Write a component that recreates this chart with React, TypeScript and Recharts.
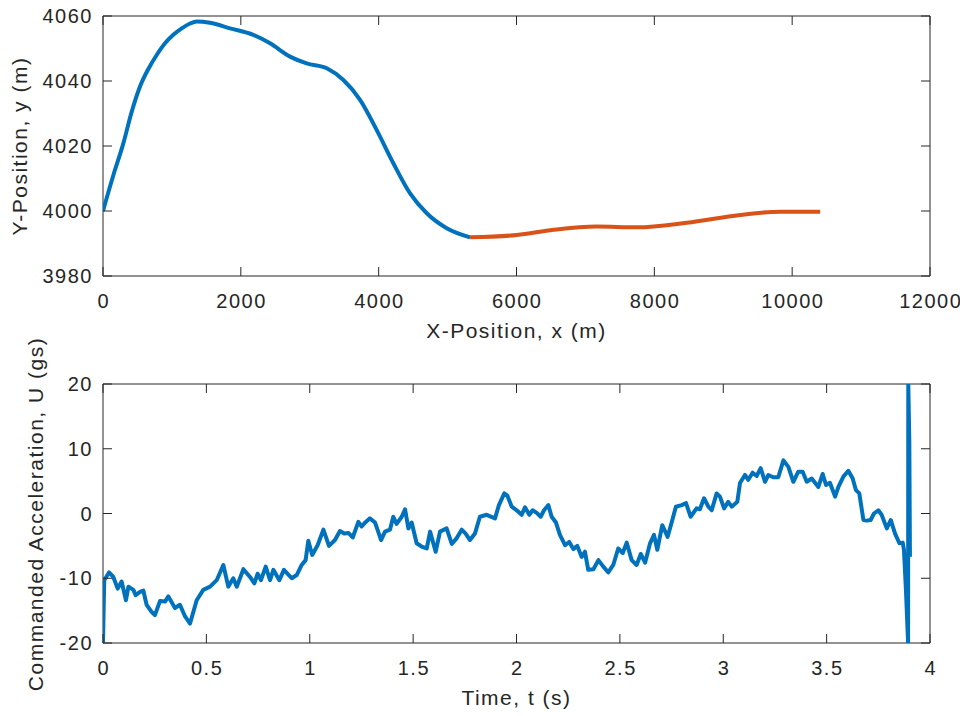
import React from 'react'
import { LineChart, Line, XAxis, YAxis, ReferenceArea } from 'recharts'

// top panel: trajectory, x/y positions in metres
const phase1X = [0, 150, 295, 416, 537, 658, 779, 900, 1020, 1142, 1263, 1360, 1553, 1843, 2181, 2424, 2714, 2956, 3247, 3488, 3730, 3972, 4213, 4456, 4698, 4988, 5326]
const phase1Y = [4000, 4011, 4020.8, 4030.5, 4038.3, 4043.7, 4048, 4051.6, 4054.2, 4056.2, 4057.7, 4058.3, 4057.9, 4056.2, 4054.2, 4051.6, 4047.5, 4045.4, 4043.9, 4040.3, 4034.2, 4024.9, 4014.7, 4005.4, 3999.3, 3994.7, 3991.9]
const phase2X = [5326, 6004, 6536, 7165, 7746, 8471, 9245, 9826, 10406]
const phase2Y = [3991.9, 3992.6, 3994.2, 3995.2, 3995.0, 3996.4, 3998.8, 3999.8, 3999.8]

// bottom panel: commanded acceleration over time
const timeS = [
  0, 0.006, 0.029, 0.05, 0.071, 0.09, 0.111, 0.123, 0.147, 0.158, 0.179, 0.195, 0.211, 0.235, 0.251, 0.276, 0.3, 0.316, 0.348, 0.372,
  0.397, 0.421, 0.453, 0.485, 0.518, 0.55, 0.582, 0.606, 0.63, 0.647, 0.679, 0.711, 0.732, 0.748, 0.764, 0.787, 0.808, 0.824, 0.853, 0.875,
  0.913, 0.937, 0.961, 0.98, 0.993, 1.012, 1.038, 1.066, 1.093, 1.122, 1.146, 1.167, 1.187, 1.208, 1.235, 1.251, 1.271, 1.291, 1.316, 1.345,
  1.364, 1.388, 1.404, 1.42, 1.445, 1.461, 1.477, 1.493, 1.517, 1.541, 1.566, 1.582, 1.609, 1.63, 1.662, 1.687, 1.711, 1.735, 1.754, 1.775,
  1.799, 1.823, 1.856, 1.896, 1.915, 1.941, 1.955, 1.977, 2.001, 2.025, 2.041, 2.062, 2.078, 2.098, 2.117, 2.133, 2.154, 2.17, 2.191, 2.21,
  2.235, 2.255, 2.275, 2.294, 2.315, 2.331, 2.347, 2.372, 2.396, 2.42, 2.444, 2.468, 2.492, 2.514, 2.533, 2.557, 2.581, 2.601, 2.622, 2.646,
  2.665, 2.681, 2.705, 2.731, 2.751, 2.771, 2.799, 2.82, 2.842, 2.871, 2.887, 2.907, 2.928, 2.944, 2.968, 2.984, 3.004, 3.024, 3.041, 3.068,
  3.081, 3.105, 3.121, 3.142, 3.162, 3.181, 3.202, 3.218, 3.242, 3.266, 3.291, 3.315, 3.339, 3.363, 3.384, 3.404, 3.428, 3.46, 3.481, 3.497,
  3.516, 3.541, 3.557, 3.581, 3.605, 3.626, 3.642, 3.658, 3.678, 3.694, 3.713, 3.729, 3.75, 3.766, 3.791, 3.81, 3.831, 3.852, 3.868, 3.874,
  3.884, 3.894, 3.895, 3.9, 3.903,
]
const accelG = [
  -20, -10.3, -9.1, -9.8, -11.6, -10.5, -13.4, -11.3, -11.8, -12.6, -12.1, -11.9, -14.1, -15.2, -15.7, -13.5, -13.6, -12.8, -14.6, -14.1,
  -15.9, -17.0, -13.4, -11.8, -11.3, -10.3, -7.95, -11.3, -10.0, -11.3, -8.6, -9.8, -10.8, -9.3, -10.3, -8.2, -10.3, -8.7, -10.3, -8.7,
  -10.0, -9.5, -7.95, -7.2, -4.2, -6.4, -4.9, -2.5, -5.0, -4.1, -2.7, -3.1, -3.0, -3.7, -1.3, -2.0, -1.3, -0.75, -1.4, -4.1,
  -2.8, -2.5, -0.5, -1.6, -0.5, 0.65, -2.3, -1.4, -4.6, -5.1, -5.4, -2.8, -5.9, -2.8, -2.3, -4.7, -3.8, -2.5, -3.1, -4.1,
  -3.1, -0.5, -0.2, -0.75, 1.3, 3.1, 2.8, 1.05, 0.5, -0.2, 0.95, -0.2, 0.5, 0.1, -0.5, 0.5, 1.3, -0.5, -1.4, -3.3,
  -4.9, -4.4, -5.5, -5.0, -6.7, -5.9, -8.7, -8.6, -7.2, -8.2, -9.1, -7.95, -5.4, -6.1, -4.5, -7.2, -7.95, -6.25, -7.6, -4.6,
  -3.3, -5.6, -1.8, -3.6, -1.3, 1.05, 1.3, 1.6, -0.5, 0.8, 0.65, 2.35, 1.05, 0.5, 3.1, 2.6, 0.8, 1.8, 1.05, 1.8,
  4.7, 5.95, 5.2, 6.3, 5.8, 7.0, 4.9, 5.95, 5.6, 5.6, 8.2, 7.2, 4.9, 6.45, 6.45, 4.9, 5.4, 4.1, 6.1, 4.4,
  4.75, 2.6, 4.1, 5.7, 6.6, 5.4, 3.6, 3.1, -1.0, -1.1, -1.0, 0.0, 0.5, -0.2, -2.3, -1.0, -3.1, -4.6, -4.5, -5.6,
  -12.1, -20, 20, 11, -6.7,
]

const posXTicks = [0, 2000, 4000, 6000, 8000, 10000, 12000]
const posYTicks = [3980, 4000, 4020, 4040, 4060]
const timeTicks = [0, 0.5, 1, 1.5, 2, 2.5, 3, 3.5, 4]
const accelTicks = [-20, -10, 0, 10, 20]

const phase1 = phase1X.map((x, i) => ({ x, y: phase1Y[i] }))
const phase2 = phase2X.map((x, i) => ({ x, y: phase2Y[i] }))
const accel = timeS.map((t, i) => ({ t, u: accelG[i] }))

const INK = '#262626'
const BLUE = '#0072BD'
const ORANGE = '#D95319'
const FONT = "'Liberation Sans', Arial, Helvetica, sans-serif"
const TICK_LEN = 9
const LEFT = 103
const RIGHT = 930

const tickText = { fontFamily: FONT, fill: INK, fontSize: 20, letterSpacing: '1.5px' }
const titleText = { fontFamily: FONT, fill: INK, fontSize: 21, letterSpacing: '1.5px' }

function XTick({ x, payload, top, bottom }: any) {
  return (
    <g>
      <line x1={x} x2={x} y1={bottom} y2={bottom - TICK_LEN} stroke={INK} strokeWidth={1} />
      <line x1={x} x2={x} y1={top} y2={top + TICK_LEN} stroke={INK} strokeWidth={1} />
      <text x={x + 0.75} y={bottom + 32} textAnchor="middle" style={tickText}>
        {payload.value}
      </text>
    </g>
  )
}

function YTick({ y, payload }: any) {
  return (
    <g>
      <line x1={LEFT} x2={LEFT + TICK_LEN} y1={y} y2={y} stroke={INK} strokeWidth={1} />
      <line x1={RIGHT} x2={RIGHT - TICK_LEN} y1={y} y2={y} stroke={INK} strokeWidth={1} />
      <text x={LEFT - 10} y={y + 7} textAnchor="end" style={tickText}>
        {payload.value}
      </text>
    </g>
  )
}

function Title({ x, y, text, rotate }: any) {
  return (
    <text
      x={x}
      y={y}
      textAnchor="middle"
      style={titleText}
      transform={rotate ? `rotate(-90, ${x}, ${y})` : undefined}
    >
      {text}
    </text>
  )
}

export default function App() {
  return (
    <div style={{ position: 'absolute', left: 0, top: 0, width: 960, height: 716, background: '#fff' }}>
      <LineChart width={960} height={358} margin={{ top: 16, right: 30, bottom: 22, left: 0 }}>
        <XAxis
          type="number"
          dataKey="x"
          domain={[0, 12000]}
          ticks={posXTicks}
          interval={0}
          height={60}
          tickLine={false}
          axisLine={false}
          allowDataOverflow
          tick={(p: any) => <XTick {...p} top={16} bottom={276} />}
        />
        <YAxis
          type="number"
          dataKey="y"
          domain={[3980, 4060]}
          ticks={posYTicks}
          interval={0}
          width={LEFT}
          tickLine={false}
          axisLine={false}
          allowDataOverflow
          tick={(p: any) => <YTick {...p} />}
        />
        <ReferenceArea x1={0} x2={12000} y1={3980} y2={4060} fill="none" stroke={INK} strokeWidth={1} />
        <Line data={phase1} dataKey="y" type="monotone" stroke={BLUE} strokeWidth={4} dot={false} strokeLinejoin="round" isAnimationActive={false} />
        <Line data={phase2} dataKey="y" type="monotone" stroke={ORANGE} strokeWidth={4} dot={false} strokeLinejoin="round" isAnimationActive={false} />
      </LineChart>

      <LineChart width={960} height={358} margin={{ top: 26, right: 30, bottom: 13, left: 0 }}>
        <XAxis
          type="number"
          dataKey="t"
          domain={[0, 4]}
          ticks={timeTicks}
          interval={0}
          height={60}
          tickLine={false}
          axisLine={false}
          allowDataOverflow
          tick={(p: any) => <XTick {...p} top={26} bottom={285} />}
        />
        <YAxis
          type="number"
          dataKey="u"
          domain={[-20, 20]}
          ticks={accelTicks}
          interval={0}
          width={LEFT}
          tickLine={false}
          axisLine={false}
          allowDataOverflow
          tick={(p: any) => <YTick {...p} />}
        />
        <ReferenceArea x1={0} x2={4} y1={-20} y2={20} fill="none" stroke={INK} strokeWidth={1} />
        <Line data={accel} dataKey="u" type="linear" stroke={BLUE} strokeWidth={4} dot={false} strokeLinejoin="round" isAnimationActive={false} />
      </LineChart>

      {/* axis titles, placed over both panels */}
      <svg width={960} height={716} style={{ position: 'absolute', left: 0, top: 0, pointerEvents: 'none' }}>
        <Title x={516.5} y={338} text="X-Position, x (m)" />
        <Title x={27} y={146} text="Y-Position, y (m)" rotate />
        <Title x={516.5} y={705} text="Time, t (s)" />
        <Title x={43} y={514} text="Commanded Acceleration, U (gs)" rotate />
      </svg>
    </div>
  )
}
